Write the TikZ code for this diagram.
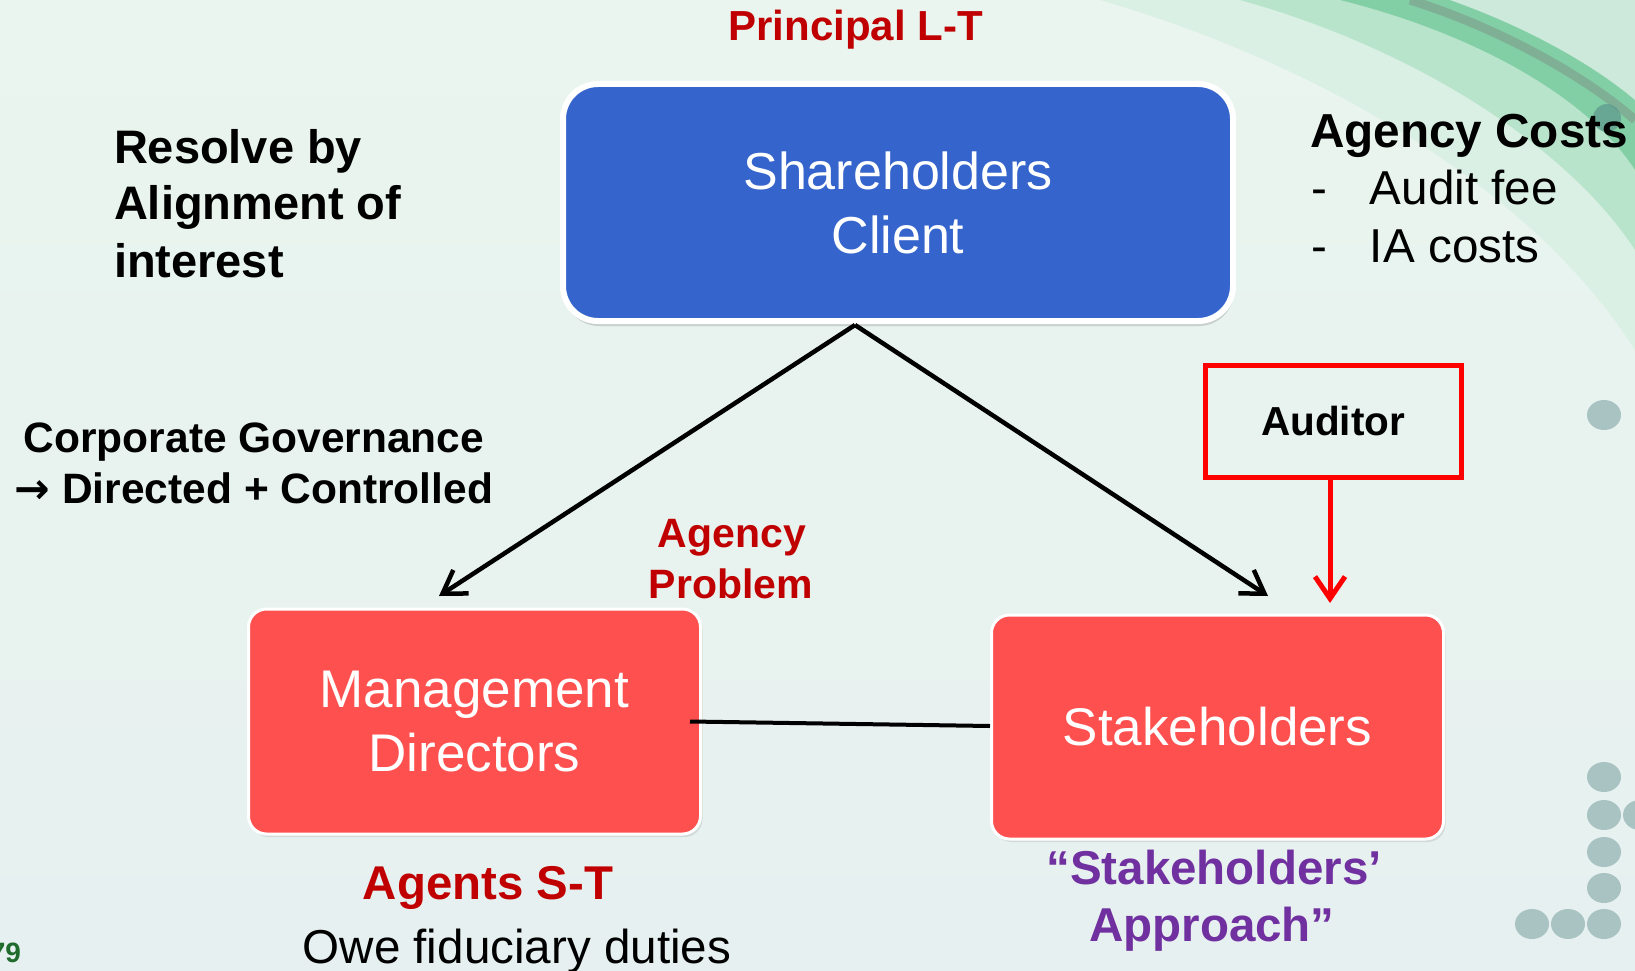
\documentclass[tikz,border=0pt]{standalone}
\usepackage{fontspec}
\setmainfont{Liberation Sans}
\newfontfamily\dejavu{DejaVu Sans}
\usetikzlibrary{arrows.meta,shadows,calc}
\definecolor{darkred}{HTML}{C00000}
\definecolor{purp}{HTML}{7030A0}
\definecolor{boxblue}{HTML}{3464CC}
\definecolor{boxred}{HTML}{FF5050}
\definecolor{dotc}{HTML}{A9C3C3}
\definecolor{pagegreen}{HTML}{1F6B2E}
\definecolor{bgtop}{HTML}{E9F5EE}
\definecolor{bgmid}{HTML}{F7FAFA}
\definecolor{bgbot}{HTML}{E7F0F0}
\definecolor{swlight}{HTML}{D2EEDF}
\definecolor{swmid}{HTML}{A3DDBC}
\definecolor{swstrong}{HTML}{6CC796}
\definecolor{swstreak}{HTML}{7E9C8A}
\definecolor{swpale}{HTML}{E6F3EE}
\definecolor{tealdot}{HTML}{5E9A8E}
\newcommand{\fsz}[2]{\fontsize{#1pt}{#2pt}\selectfont}
\begin{document}
\begin{tikzpicture}[x=1pt,y=-1pt,
  bluebox/.style={rectangle, rounded corners=35pt, fill=boxblue, draw=white, line width=6pt,
    text=white, align=center, font=\fsz{52}{64},
    drop shadow={shadow xshift=1pt, shadow yshift=-5pt, opacity=0.3}},
  redbox/.style={rectangle, rounded corners=18pt, fill=boxred, draw=white, line width=3pt,
    text=white, align=center, font=\fsz{53}{64},
    drop shadow={shadow xshift=2pt, shadow yshift=-3pt, opacity=0.2}},
  audbox/.style={rectangle, draw=red, line width=5pt, font=\bfseries\fsz{40.5}{48}},
  lbl/.style={inner sep=0pt, outer sep=0pt},
  blkarrow/.style={draw=black, line width=4.5pt, -{Straight Barb[length=22pt,width=28pt]}},
  redarrow/.style={draw=red, line width=5pt, -{Straight Barb[length=22pt,width=30pt]}},
  link/.style={draw=black, line width=4pt},
  dot/.style={fill=dotc}
]
\useasboundingbox (0,0) rectangle (1635,971);
% background
\shade[top color=bgtop, middle color=bgmid, bottom color=bgbot] (0,0) rectangle (1635,971);
\fill[swlight, opacity=0.6] (1100,0) .. controls (1340,70) and (1540,200) .. (1635,350) -- (1635,0) -- cycle;
\fill[swmid, opacity=0.6] (1240,0) .. controls (1420,50) and (1570,150) .. (1635,250) -- (1635,0) -- cycle;
\fill[swstrong, opacity=0.7] (1340,0) .. controls (1480,35) and (1590,100) .. (1635,170) -- (1635,0) -- cycle;
\draw[swstreak, line width=9pt, opacity=0.6] (1410,0) .. controls (1505,30) and (1590,80) .. (1635,120);
\fill[swpale, opacity=0.75] (1450,0) .. controls (1535,30) and (1600,70) .. (1635,100) -- (1635,0) -- cycle;
\fill[tealdot, opacity=0.75] (1607,118) circle[radius=14pt];
% decorative dots
\fill[dot] (1604,415) ellipse[x radius=17pt, y radius=15pt];
\fill[dot] (1604,777) ellipse[x radius=17pt, y radius=15pt];
\fill[dot] (1604,815) ellipse[x radius=17pt, y radius=15pt];
\fill[dot] (1640,815) ellipse[x radius=17pt, y radius=15pt];
\fill[dot] (1604,852) ellipse[x radius=17pt, y radius=15pt];
\fill[dot] (1604,888) ellipse[x radius=17pt, y radius=15pt];
\fill[dot] (1604,924) ellipse[x radius=17pt, y radius=15pt];
\fill[dot] (1568,924) ellipse[x radius=17pt, y radius=15pt];
\fill[dot] (1532,924) ellipse[x radius=17pt, y radius=15pt];

% boxes
\node[bluebox, minimum width=670pt, minimum height=237pt] (sh) at (898,202.5) {Shareholders\\Client};
\node[redbox, minimum width=452pt, minimum height=225pt] (mgmt) at (474.5,721.5) {Management\\Directors};
\node[redbox, minimum width=452pt, minimum height=224pt] (stake) at (1217.5,727) {Stakeholders};
\node[audbox, minimum width=256pt, minimum height=112pt] (aud) at (1333,421) {Auditor};

% connectors
\coordinate (apex) at (855,325);
\coordinate (tipL) at (439,596);
\coordinate (tipR) at (1268,596);
\coordinate (audtip) at (1330,603);
\draw[blkarrow] (apex) -- (tipL);
\draw[blkarrow] (apex) -- (tipR);
\draw[redarrow] (aud.south -| audtip) -- (audtip);
\draw[link] ($(mgmt.east)+(-12,0)$) -- ($(stake.west)+(0,-1)$);

% texts
\node[lbl, anchor=base, text=darkred, font=\bfseries\fsz{42}{50}] (principal) at (855.5,41) {Principal L-T};
\node[lbl, anchor=base west, font=\bfseries\fsz{47}{57}] (res1) at (114,163) {Resolve by};
\node[lbl, anchor=base west, font=\bfseries\fsz{47}{57}] (res2) at (114,219) {Alignment of};
\node[lbl, anchor=base west, font=\bfseries\fsz{47}{57}] (res3) at (114,277) {interest};
\node[lbl, anchor=base, font=\bfseries\fsz{42.5}{50}] (cg1) at (254,452) {Corporate Governance};
\node[lbl, anchor=base, font=\bfseries\fsz{42.5}{50}] (cg2) at (254,503) {{\dejavu\bfseries →} Directed + Controlled};
\node[lbl, anchor=base west, font=\bfseries\fsz{47.7}{57}] (ac) at (1310,147) {Agency Costs};
\node[lbl, anchor=base west, font=\fsz{47.6}{57}] (ac1) at (1311,204) {\makebox[59pt][l]{-}Audit fee};
\node[lbl, anchor=base west, font=\fsz{47.6}{57}] (ac2) at (1311,262) {\makebox[59pt][l]{-}IA costs};
\node[lbl, anchor=base, text=darkred, font=\bfseries\fsz{41}{57}] (ap1) at (732,547) {Agency};
\node[lbl, anchor=base, text=darkred, font=\bfseries\fsz{41}{57}] (ap2) at (731,598) {Problem};
\node[lbl, anchor=base, text=darkred, font=\bfseries\fsz{47.4}{57}] (agents) at (488,899) {Agents S-T};
\node[lbl, anchor=base, font=\fsz{47.6}{57}] (owe) at (517,963) {Owe fiduciary duties};
\node[lbl, anchor=base, text=purp, font=\bfseries\fsz{47.5}{52}] (sa1) at (1214,884) {“Stakeholders’};
\node[lbl, anchor=base, text=purp, font=\bfseries\fsz{47.5}{52}] (sa2) at (1212,941) {Approach”};
\node[lbl, anchor=base east, text=pagegreen, font=\bfseries\fsz{28}{32}] (pg) at (21,962) {79};
\end{tikzpicture}
\end{document}
